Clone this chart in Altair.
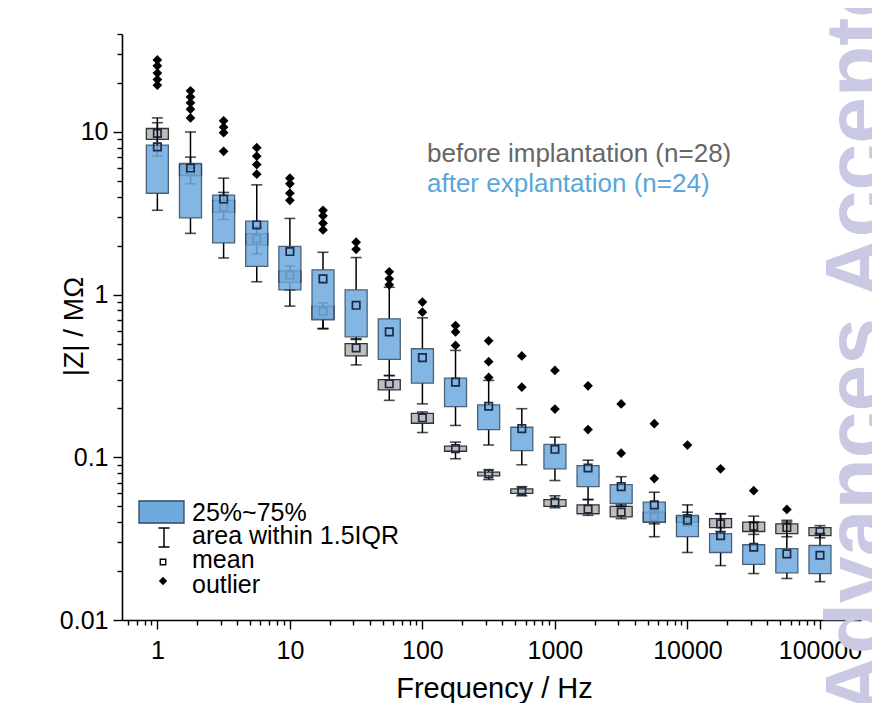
import altair as alt
import pandas as pd

# ---------------- data ----------------
freq = [1, 1.778, 3.162, 5.623, 10, 17.78, 31.62, 56.23, 100, 177.8, 316.2, 562.3,
        1000, 1778, 3162, 5623, 10000, 17783, 31623, 56234, 100000]

# before implantation (grey)
before_lo   = [7.1, 4.8, 2.9, 1.78, 1.07, 0.616, 0.37, 0.224, 0.142, 0.098, 0.073, 0.058,
               0.049, 0.044, 0.042, 0.039, 0.038, 0.035, 0.0336, 0.0325, 0.032]
before_q1   = [9.0, 5.4, 3.2, 2.02, 1.19, 0.71, 0.42, 0.26, 0.162, 0.109, 0.077, 0.060,
               0.050, 0.045, 0.043, 0.040, 0.040, 0.037, 0.035, 0.034, 0.033]
before_mean = [9.8, 5.7, 3.45, 2.2, 1.32, 0.79, 0.47, 0.283, 0.175, 0.113, 0.079, 0.062,
               0.053, 0.048, 0.046, 0.043, 0.042, 0.039, 0.0376, 0.037, 0.035]
before_q3   = [10.5, 6.3, 3.8, 2.37, 1.40, 0.85, 0.50, 0.30, 0.186, 0.117, 0.081, 0.064,
               0.055, 0.051, 0.050, 0.046, 0.043, 0.042, 0.040, 0.039, 0.037]
before_hi   = [11.4, 7.0, 4.25, 2.6, 1.5, 0.89, 0.535, 0.318, 0.19, 0.124, 0.084, 0.066,
               0.058, 0.055, 0.051, 0.047, 0.046, 0.045, 0.0435, 0.041, 0.038]

# after explantation (blue)
after_lo   = [3.3, 2.38, 1.68, 1.2, 0.85, 0.62, 0.53, 0.318, 0.213, 0.157, 0.119, 0.09,
              0.072, 0.055, 0.05, 0.0325, 0.026, 0.0216, 0.0193, 0.018, 0.0172]
after_q1   = [4.2, 2.96, 2.08, 1.49, 1.07, 0.70, 0.55, 0.40, 0.286, 0.205, 0.148, 0.11,
              0.085, 0.066, 0.052, 0.040, 0.0325, 0.026, 0.022, 0.0195, 0.0193]
after_mean = [8.1, 6.0, 3.87, 2.68, 1.84, 1.25, 0.86, 0.59, 0.41, 0.29, 0.206, 0.15,
              0.112, 0.086, 0.066, 0.051, 0.041, 0.033, 0.028, 0.0255, 0.025]
after_q3   = [8.3, 6.4, 4.09, 2.83, 1.98, 1.42, 1.07, 0.71, 0.465, 0.307, 0.21, 0.153,
              0.12, 0.089, 0.068, 0.053, 0.044, 0.034, 0.029, 0.0275, 0.0287]
after_hi   = [12.2, 10.0, 5.2, 4.73, 2.94, 1.82, 1.69, 1.11, 0.72, 0.454, 0.297, 0.199,
              0.133, 0.096, 0.076, 0.061, 0.051, 0.045, 0.040, 0.040, 0.034]

outlier_freq = [1, 1, 1, 1, 1,
                1.778, 1.778, 1.778, 1.778, 1.778,
                3.162, 3.162, 3.162, 3.162,
                5.623, 5.623, 5.623, 5.623,
                10, 10, 10, 10,
                17.78, 17.78, 17.78, 17.78,
                31.62, 31.62,
                56.23, 56.23, 56.23,
                100, 100,
                177.8, 177.8, 177.8,
                316.2, 316.2, 316.2,
                562.3, 562.3,
                1000, 1000,
                1778, 1778,
                3162, 3162,
                5623, 5623,
                10000, 17783, 31623, 56234]
outlier_value = [27.7, 25.5, 23.0, 21.0, 19.4,
                 17.9, 16.4, 15.1, 13.8, 12.2,
                 11.7, 10.7, 9.9, 7.6,
                 8.0, 7.1, 6.3, 5.5,
                 5.2, 4.8, 4.2, 3.8,
                 3.3, 3.05, 2.75, 2.5,
                 2.1, 1.9,
                 1.38, 1.25, 1.15,
                 0.90, 0.78,
                 0.645, 0.59, 0.487,
                 0.52, 0.387, 0.31,
                 0.42, 0.27,
                 0.342, 0.198,
                 0.275, 0.148,
                 0.213, 0.106,
                 0.161, 0.074,
                 0.119, 0.085, 0.0624, 0.0478]

x_major_labels = ["1", "10", "100", "1000", "10000", "100000"]
y_major_labels = ["0.01", "0.1", "1", "10"]

x_ticks = [0.6, 0.7, 0.8, 0.9] + [round(m * 10.0 ** e, 6) for e in range(0, 5) for m in range(1, 10)] + [100000]
y_ticks = [round(m * 10.0 ** e, 6) for e in range(-2, 1) for m in range(1, 10)] + [10, 20, 30, 40]

# ---------------- styling ----------------
FONT = "Liberation Sans"
BLUE = "#6eaadd"
BLUE_EDGE = "#2c4763"
GREY = "#bdbdbd"
GREY_EDGE = "#333333"
MEAN_EDGE = "#1b2a45"

W, H = 739, 586

major = "abs(log(datum.value)/LN10 - round(log(datum.value)/LN10)) < 0.000001"

xscale = alt.Scale(type="log", domain=[0.59, 187000], nice=False, zero=False)
yscale = alt.Scale(type="log", domain=[0.01, 40], nice=False, zero=False)

common_axis = dict(
    grid=False, domainColor="black", domainWidth=1.6, tickColor="black", tickWidth=1.4,
    tickSize={"condition": {"test": major, "value": 9}, "value": 5},
    labelExpr=f"({major}) ? format(datum.value, '~g') : ''",
    labelOverlap=False, labelFlush=False, labelFont=FONT, labelFontSize=25,
    labelColor="black", titleFont=FONT, titleFontWeight="normal",
    titleColor="black",
)
xaxis = alt.Axis(values=x_ticks, labelPadding=9, titleX=372, titleY=77, titleFontSize=29,
                 titleAnchor="start", titleAlign="center", titleBaseline="alphabetic",
                 **common_axis)
yaxis = alt.Axis(values=y_ticks, labelPadding=5, titleX=-48, titleY=292, titleAngle=270,
                 titleFontSize=28, titleAlign="center", titleBaseline="middle",
                 titleAnchor="start", **common_axis)


def X():
    return alt.X("freq:Q", scale=xscale, axis=xaxis, title="Frequency / Hz")


def Y(field):
    return alt.Y(f"{field}:Q", scale=yscale, axis=yaxis, title="|Z| / MΩ")


def frame(lo, q1, mean, q3, hi):
    return pd.DataFrame({"freq": freq, "lo": lo, "q1": q1, "mean": mean, "q3": q3, "hi": hi})


df_before = frame(before_lo, before_q1, before_mean, before_q3, before_hi)
df_after = frame(after_lo, after_q1, after_mean, after_q3, after_hi)
df_out = pd.DataFrame({"freq": outlier_freq, "value": outlier_value})


def box_layers(df, fill, edge, opacity):
    base = alt.Chart(df)
    return [
        base.mark_rule(color="black", strokeWidth=1.5).encode(x=X(), y=Y("lo"), y2="q1:Q"),
        base.mark_rule(color="black", strokeWidth=1.5).encode(x=X(), y=Y("q3"), y2="hi:Q"),
        base.mark_tick(orient="horizontal", size=11, thickness=1.6, color="black").encode(x=X(), y=Y("lo")),
        base.mark_tick(orient="horizontal", size=11, thickness=1.6, color="black").encode(x=X(), y=Y("hi")),
        base.mark_bar(size=22, fill=fill, stroke=edge, strokeWidth=1.3, opacity=opacity).encode(
            x=X(), y=Y("q1"), y2="q3:Q"),
        base.mark_point(shape="square", filled=False, size=55, stroke=MEAN_EDGE, strokeWidth=1.7,
                        opacity=1).encode(x=X(), y=Y("mean")),
    ]


one = alt.Data(values=[{"k": 0}])

watermark = alt.Chart(one).mark_text(
    text="Advances Accepted Manuscript", angle=270, align="left", baseline="alphabetic",
    font=FONT, fontSize=84, fontWeight="bold", color="#c9c9e3"
).encode(x=alt.value(762), y=alt.value(681))

layers = [watermark]
layers += box_layers(df_before, GREY, GREY_EDGE, 1.0)
layers += box_layers(df_after, BLUE, BLUE_EDGE, 0.85)
layers.append(
    alt.Chart(df_out).mark_point(shape="diamond", filled=True, size=95, color="black", opacity=1)
    .encode(x=X(), y=Y("value"))
)

# series labels
layers.append(alt.Chart(one).mark_text(text="before implantation (n=28)", align="left",
                                       baseline="alphabetic", font=FONT, fontSize=26,
                                       color="#666666").encode(x=alt.value(305), y=alt.value(128)))
layers.append(alt.Chart(one).mark_text(text="after explantation (n=24)", align="left",
                                       baseline="alphabetic", font=FONT, fontSize=26,
                                       color="#5aa5d9").encode(x=alt.value(305), y=alt.value(158)))

# key
layers.append(alt.Chart(one).mark_rect(fill=BLUE, stroke=BLUE_EDGE, strokeWidth=1.3).encode(
    x=alt.value(17), x2=alt.value(62), y=alt.value(467), y2=alt.value(489)))
layers.append(alt.Chart(one).mark_rule(color="black", strokeWidth=1.5).encode(
    x=alt.value(42), y=alt.value(494), y2=alt.value(513)))
layers.append(alt.Chart(one).mark_rule(color="black", strokeWidth=1.5).encode(
    x=alt.value(36.5), x2=alt.value(47.5), y=alt.value(494)))
layers.append(alt.Chart(one).mark_rule(color="black", strokeWidth=1.5).encode(
    x=alt.value(36.5), x2=alt.value(47.5), y=alt.value(513)))
layers.append(alt.Chart(one).mark_point(shape="square", filled=False, size=30, stroke="black",
                                        strokeWidth=1.4, opacity=1).encode(
    x=alt.value(41), y=alt.value(528)))
layers.append(alt.Chart(one).mark_point(shape="diamond", filled=True, size=70, color="black",
                                        opacity=1).encode(x=alt.value(41), y=alt.value(547)))

key_text = ["25%~75%", "area within 1.5IQR", "mean", "outlier"]
key_base = [487, 510, 534, 559]
for t, b in zip(key_text, key_base):
    layers.append(alt.Chart(one).mark_text(text=t, align="left", baseline="alphabetic", font=FONT,
                                           fontSize=25, color="black").encode(
        x=alt.value(70), y=alt.value(b)))

chart = alt.layer(*layers).properties(
    width=W, height=H,
    autosize=alt.AutoSizeParams(type="none"),
    padding={"left": 114, "top": 26, "right": 11, "bottom": 83},
).configure_view(strokeWidth=0)

chart.save("out.html", embed_options={"renderer": "svg", "actions": False})
